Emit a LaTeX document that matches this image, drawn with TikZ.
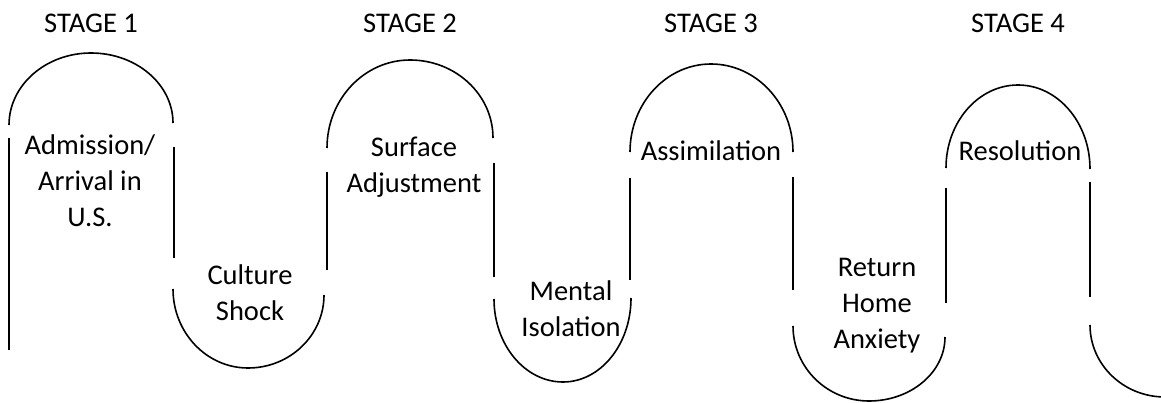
\documentclass[tikz,border=0pt]{standalone}
\usepackage{fontspec}
\setmainfont{Carlito}
\usetikzlibrary{calc}
% half ellipse over the top: left end, top point, right end
\def\hump(#1,#2)(#3,#4)(#5,#6){\draw[curve] (#1,#2) arc[start angle=180, end angle=270, x radius={#3-#1}, y radius={#2-#4}] arc[start angle=270, end angle=360, x radius={#5-#3}, y radius={#6-#4}];}
% half ellipse underneath: left end, bottom point, right end
\def\dip(#1,#2)(#3,#4)(#5,#6){\draw[curve] (#1,#2) arc[start angle=180, end angle=90, x radius={#3-#1}, y radius={#4-#2}] arc[start angle=90, end angle=0, x radius={#5-#3}, y radius={#4-#6}];}

\begin{document}
\begin{tikzpicture}[x=1pt, y=-1pt,
		curve/.style={line width=1.6pt},
		stage/.style={font=\fontsize{28.5}{36}\selectfont, inner sep=0pt, anchor=base},
		phase/.style={font=\fontsize{28.5}{36}\selectfont, inner sep=0pt, anchor=north, align=center, execute at begin node=\strut}]
		%%%%% START %%%%%
		\useasboundingbox (0,0) rectangle (1161,403);
		
		\node[stage] (stageone) at (91, 33) {STAGE 1};
		\node[stage] (stagetwo) at (410, 33) {STAGE 2};
		\node[stage] (stagethree) at (711, 33) {STAGE 3};
		\node[stage] (stagefour) at (1018, 33) {STAGE 4};
		
		\hump(9,125)(91,53)(173,123)
		\draw[curve] (9, 138) -- (9, 350);
		\draw[curve] (174, 147) -- (174, 258);
		\node[phase] (arrival) at (90, 135) {Admission/\\Arrival in\\U.S.};
		
		\dip(173,289)(248,368)(324,295)
		\node[phase] (shock) at (250, 265) {Culture\\Shock};
		
		\hump(327,148)(410,60)(493,138)
		\draw[curve] (327, 172) -- (327, 270);
		\draw[curve] (494, 163) -- (494, 277);
		\node[phase] (surface) at (414, 137) {Surface\\Adjustment};
		
		\dip(494,299)(563,382)(631,298)
		\node[phase] (isolation) at (571, 281) {Mental\\Isolation};
		
		\hump(630,152)(711,64)(793,152)
		\draw[curve] (630, 178) -- (630, 280);
		\draw[curve] (793, 177) -- (793, 290);
		\node[phase] (assimilation) at (711, 135.5) {Assimilation};
		
		\dip(793,326)(869,401)(945,337)
		\node[phase] (returnhome) at (877, 258) {Return\\Home\\Anxiety};
		
		\hump(946,168)(1018,85)(1090,169)
		\draw[curve] (946, 188) -- (946, 303);
		\draw[curve] (1090, 182) -- (1090, 297);
		\node[phase] (resolution) at (1020, 135.5) {Resolution};
		
		\draw[curve] (1090, 325) arc[start angle=180, end angle=90, x radius=75, y radius=72];
		%%%%% END %%%%%
\end{tikzpicture}
\end{document}
